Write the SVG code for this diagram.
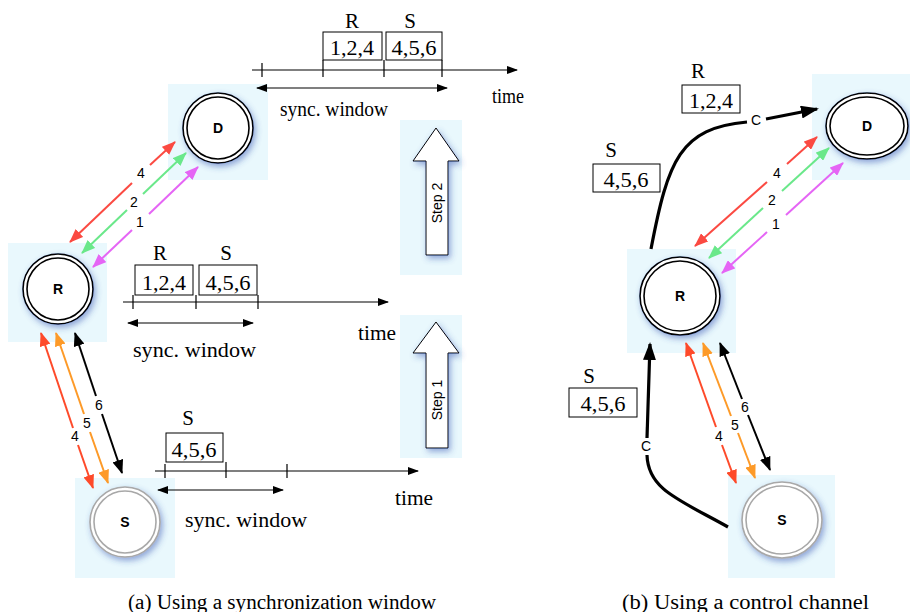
<svg xmlns="http://www.w3.org/2000/svg" width="910" height="612" viewBox="0 0 910 612">
<style>
.bg{fill:#e9f8fd}
.ring{fill:#fff;stroke:#000;stroke-width:1.6}
.gring{fill:#fff;stroke:#a8a8a8;stroke-width:1.6}
.nl{font-family:"Liberation Sans",Arial,sans-serif;font-weight:bold;font-size:14px;text-anchor:middle}
.al{font-family:"Liberation Sans",Arial,sans-serif;font-size:14px;text-anchor:middle}
.t{font-family:"Liberation Serif","Times New Roman",serif;font-size:21px}
.tn{font-family:"Liberation Serif","Times New Roman",serif;font-size:22px;text-anchor:middle}
.tc{font-family:"Liberation Serif","Times New Roman",serif;font-size:21px;text-anchor:middle}
.box{fill:#fff;stroke:#000;stroke-width:1}
.tl{stroke:#000;stroke-width:1.2;fill:none}
.red{stroke:#fb4a42;stroke-width:2;marker-end:url(#hRed)}
.grn{stroke:#6ae88a;stroke-width:2;marker-end:url(#hGrn)}
.mag{stroke:#e565f5;stroke-width:2;marker-end:url(#hMag)}
.org{stroke:#fd9a28;stroke-width:2;marker-end:url(#hOrg)}
.red2{stroke:#fe4a2a;stroke-width:2;marker-end:url(#hRed2)}
.blk{stroke:#000;stroke-width:2;marker-end:url(#hBlk)}
.ctl{stroke:#000;stroke-width:3.2;fill:none}
.step{fill:#fff;stroke:#000;stroke-width:1}
.cap{font-family:"Liberation Serif","Times New Roman",serif;font-size:20px}
</style>
<defs>
<filter id="sh" x="-30%" y="-30%" width="160%" height="160%">
<feGaussianBlur in="SourceAlpha" stdDeviation="3"/>
<feOffset dx="2" dy="3" result="b"/>
<feFlood flood-color="#3050b0" flood-opacity="0.5"/>
<feComposite in2="b" operator="in"/>
<feMerge><feMergeNode/><feMergeNode in="SourceGraphic"/></feMerge>
</filter>
<marker id="hRed" viewBox="0 0 14 11" refX="13" refY="5.5" markerWidth="14" markerHeight="11" markerUnits="userSpaceOnUse" orient="auto"><path d="M0,0 L14,5.5 L0,11 z" fill="#fb4a42"/></marker>
<marker id="hGrn" viewBox="0 0 14 11" refX="13" refY="5.5" markerWidth="14" markerHeight="11" markerUnits="userSpaceOnUse" orient="auto"><path d="M0,0 L14,5.5 L0,11 z" fill="#6ae88a"/></marker>
<marker id="hMag" viewBox="0 0 14 11" refX="13" refY="5.5" markerWidth="14" markerHeight="11" markerUnits="userSpaceOnUse" orient="auto"><path d="M0,0 L14,5.5 L0,11 z" fill="#e565f5"/></marker>
<marker id="hOrg" viewBox="0 0 14 11" refX="13" refY="5.5" markerWidth="14" markerHeight="11" markerUnits="userSpaceOnUse" orient="auto"><path d="M0,0 L14,5.5 L0,11 z" fill="#fd9a28"/></marker>
<marker id="hRed2" viewBox="0 0 14 11" refX="13" refY="5.5" markerWidth="14" markerHeight="11" markerUnits="userSpaceOnUse" orient="auto"><path d="M0,0 L14,5.5 L0,11 z" fill="#fe4a2a"/></marker>
<marker id="hBlk" viewBox="0 0 14 11" refX="13" refY="5.5" markerWidth="14" markerHeight="11" markerUnits="userSpaceOnUse" orient="auto"><path d="M0,0 L14,5.5 L0,11 z" fill="#000"/></marker>
<marker id="hT" viewBox="0 0 11 8" refX="10" refY="4" markerWidth="11" markerHeight="8" markerUnits="userSpaceOnUse" orient="auto-start-reverse"><path d="M0,0 L11,4 L0,8 z" fill="#000"/></marker>
<marker id="hC" viewBox="0 0 18 13" refX="16" refY="6.5" markerWidth="18" markerHeight="13" markerUnits="userSpaceOnUse" orient="auto"><path d="M0,0 L18,6.5 L0,13 z" fill="#000"/></marker>
</defs>

<!-- background highlight areas -->
<rect class="bg" x="168" y="84" width="100" height="96"/>
<rect class="bg" x="8" y="243" width="99" height="99"/>
<rect class="bg" x="75" y="478" width="100" height="100"/>
<rect class="bg" x="400" y="120" width="62" height="155"/>
<rect class="bg" x="400" y="315" width="62" height="143"/>
<rect class="bg" x="812" y="74" width="98" height="106"/>
<rect class="bg" x="627" y="249" width="109" height="104"/>
<rect class="bg" x="728" y="475" width="107" height="103"/>

<!-- nodes, left panel -->
<g id="nodeD_a">
<circle class="ring" cx="218" cy="128" r="35" filter="url(#sh)"/>
<circle class="ring" cx="218" cy="128" r="31"/>
<text class="nl" x="218" y="133">D</text>
</g>
<g id="nodeR_a">
<circle class="ring" cx="58" cy="289" r="35" filter="url(#sh)"/>
<circle class="ring" cx="58" cy="289" r="31"/>
<text class="nl" x="58" y="294">R</text>
</g>
<g id="nodeS_a">
<circle class="gring" cx="125" cy="522" r="35" filter="url(#sh)"/>
<circle class="gring" cx="125" cy="522" r="31"/>
<text class="nl" x="125" y="527">S</text>
</g>

<!-- nodes, right panel -->
<g id="nodeD_b">
<ellipse class="ring" cx="867" cy="126" rx="41" ry="33" filter="url(#sh)"/>
<ellipse class="ring" cx="867" cy="126" rx="37" ry="29"/>
<text class="nl" x="867" y="131">D</text>
</g>
<g id="nodeR_b">
<ellipse class="ring" cx="680" cy="296" rx="40" ry="39" filter="url(#sh)"/>
<ellipse class="ring" cx="680" cy="296" rx="36" ry="35"/>
<text class="nl" x="680" y="301">R</text>
</g>
<g id="nodeS_b">
<ellipse class="gring" cx="782" cy="520" rx="40" ry="38" filter="url(#sh)"/>
<ellipse class="gring" cx="782" cy="520" rx="36" ry="34"/>
<text class="nl" x="782" y="525">S</text>
</g>

<!-- step arrows -->
<g id="step2">
<polygon class="step" points="436,128 459,161 448,161 448,255 426,255 426,161 413,161" filter="url(#sh)"/>
<text class="al" transform="translate(442,203) rotate(-90)">Step 2</text>
</g>
<g id="step1">
<polygon class="step" points="436,322 459,353 448,353 448,448 426,448 426,353 413,353" filter="url(#sh)"/>
<text class="al" transform="translate(442,400) rotate(-90)">Step 1</text>
</g>

<!-- connectors -->
<g id="connectors">
<line class="red" x1="132" y1="183" x2="70" y2="242"/>
<line class="red" x1="150" y1="165" x2="175" y2="142"/>
<line class="grn" x1="127" y1="210" x2="82" y2="253"/>
<line class="grn" x1="143" y1="194" x2="186" y2="153"/>
<line class="mag" x1="132" y1="230" x2="93" y2="267"/>
<line class="mag" x1="149" y1="214" x2="198" y2="167"/>
<line class="red2" x1="73" y1="428" x2="41" y2="333"/>
<line class="red2" x1="78" y1="445" x2="93" y2="488"/>
<line class="org" x1="84" y1="414" x2="56" y2="333"/>
<line class="org" x1="90" y1="432" x2="108" y2="483"/>
<line class="blk" x1="96" y1="396" x2="75" y2="333"/>
<line class="blk" x1="102" y1="414" x2="122" y2="473"/>
<line class="red" x1="767" y1="182" x2="695" y2="246"/>
<line class="red" x1="787" y1="164" x2="817" y2="137"/>
<line class="grn" x1="763" y1="208" x2="709" y2="258"/>
<line class="grn" x1="782" y1="191" x2="829" y2="148"/>
<line class="mag" x1="767" y1="232" x2="722" y2="273"/>
<line class="mag" x1="786" y1="215" x2="843" y2="163"/>
<line class="red2" x1="716" y1="427" x2="686" y2="343"/>
<line class="red2" x1="722" y1="445" x2="736" y2="483"/>
<line class="org" x1="731" y1="416" x2="703" y2="343"/>
<line class="org" x1="738" y1="433" x2="755" y2="478"/>
<line class="blk" x1="742" y1="399" x2="720" y2="343"/>
<line class="blk" x1="748" y1="415" x2="770" y2="470"/>
<path class="ctl" d="M651,249 C668,160 680,128 747,122"/>
<path class="ctl" d="M766,119 L817,109" marker-end="url(#hC)"/>
<path class="ctl" d="M728,527 C680,500 648,490 647,455"/>
<path class="ctl" d="M647,438 L650,344" marker-end="url(#hC)"/>
<text class="al" x="141" y="178">4</text>
<text class="al" x="134" y="207">2</text>
<text class="al" x="140" y="227">1</text>
<text class="al" x="75" y="441">4</text>
<text class="al" x="87" y="428">5</text>
<text class="al" x="99" y="410">6</text>
<text class="al" x="777" y="178">4</text>
<text class="al" x="772" y="205">2</text>
<text class="al" x="776" y="229">1</text>
<text class="al" x="719" y="441">4</text>
<text class="al" x="735" y="430">5</text>
<text class="al" x="745" y="412">6</text>
<text class="al" x="756" y="125">C</text>
<text class="al" x="646" y="451">C</text>
</g>

<!-- top timeline (step 2) -->
<g id="timeline2">
<text class="tc" x="352" y="28">R</text>
<text class="tc" x="410" y="28">S</text>
<rect class="box" x="323" y="32" width="59" height="28"/>
<rect class="box" x="386" y="32" width="56" height="28"/>
<text class="tn" x="352" y="55" textLength="44" lengthAdjust="spacingAndGlyphs">1,2,4</text>
<text class="tn" x="414" y="55" textLength="45" lengthAdjust="spacingAndGlyphs">4,5,6</text>
<line class="tl" x1="252" y1="70" x2="517" y2="70" marker-end="url(#hT)"/>
<path class="tl" d="M262,63 V77 M323,60 V77 M384,60 V77 M442,60 V77"/>
<line class="tl" x1="257" y1="88" x2="447" y2="88" marker-start="url(#hT)" marker-end="url(#hT)"/>
<text class="t" x="280" y="116" textLength="108" lengthAdjust="spacingAndGlyphs">sync. window</text>
<text class="t" x="492" y="103" textLength="32" lengthAdjust="spacingAndGlyphs">time</text>
</g>

<!-- middle timeline -->
<g id="timeline1">
<text class="tc" x="160" y="260">R</text>
<text class="tc" x="226" y="260">S</text>
<rect class="box" x="135" y="265" width="58" height="30"/>
<rect class="box" x="199" y="265" width="58" height="30"/>
<text class="tn" x="164" y="290" textLength="44" lengthAdjust="spacingAndGlyphs">1,2,4</text>
<text class="tn" x="228" y="290" textLength="45" lengthAdjust="spacingAndGlyphs">4,5,6</text>
<line class="tl" x1="123" y1="302" x2="388" y2="302" marker-end="url(#hT)"/>
<path class="tl" d="M133,295 V309 M196,295 V309 M258,295 V309"/>
<line class="tl" x1="128" y1="323" x2="253" y2="323" marker-start="url(#hT)" marker-end="url(#hT)"/>
<text class="t" x="133" y="357" textLength="123" lengthAdjust="spacingAndGlyphs">sync. window</text>
<text class="t" x="358" y="340" textLength="38" lengthAdjust="spacingAndGlyphs">time</text>
</g>

<!-- bottom timeline -->
<g id="timeline0">
<text class="tc" x="188" y="425">S</text>
<rect class="box" x="166" y="433" width="57" height="29"/>
<text class="tn" x="194" y="457" textLength="45" lengthAdjust="spacingAndGlyphs">4,5,6</text>
<line class="tl" x1="155" y1="471" x2="418" y2="471" marker-end="url(#hT)"/>
<path class="tl" d="M165,464 V478 M226,462 V478 M287,464 V478"/>
<line class="tl" x1="158" y1="490" x2="283" y2="490" marker-start="url(#hT)" marker-end="url(#hT)"/>
<text class="t" x="185" y="527" textLength="122" lengthAdjust="spacingAndGlyphs">sync. window</text>
<text class="t" x="395" y="505" textLength="38" lengthAdjust="spacingAndGlyphs">time</text>
</g>

<!-- right panel boxes -->
<g id="boxes_b">
<text class="tc" x="698" y="78">R</text>
<rect class="box" x="682" y="85" width="58" height="28"/>
<text class="tn" x="711" y="108" textLength="44" lengthAdjust="spacingAndGlyphs">1,2,4</text>
<text class="tc" x="611" y="157">S</text>
<rect class="box" x="593" y="164" width="67" height="28"/>
<text class="tn" x="626" y="187" textLength="45" lengthAdjust="spacingAndGlyphs">4,5,6</text>
<text class="tc" x="589" y="383">S</text>
<rect class="box" x="569" y="388" width="68" height="29"/>
<text class="tn" x="603" y="411" textLength="45" lengthAdjust="spacingAndGlyphs">4,5,6</text>
</g>

<!-- captions -->
<text class="cap" x="128" y="609" textLength="308" lengthAdjust="spacingAndGlyphs">(a) Using a synchronization window</text>
<text class="cap" x="622" y="609" textLength="247" lengthAdjust="spacingAndGlyphs">(b) Using a control channel</text>
</svg>
